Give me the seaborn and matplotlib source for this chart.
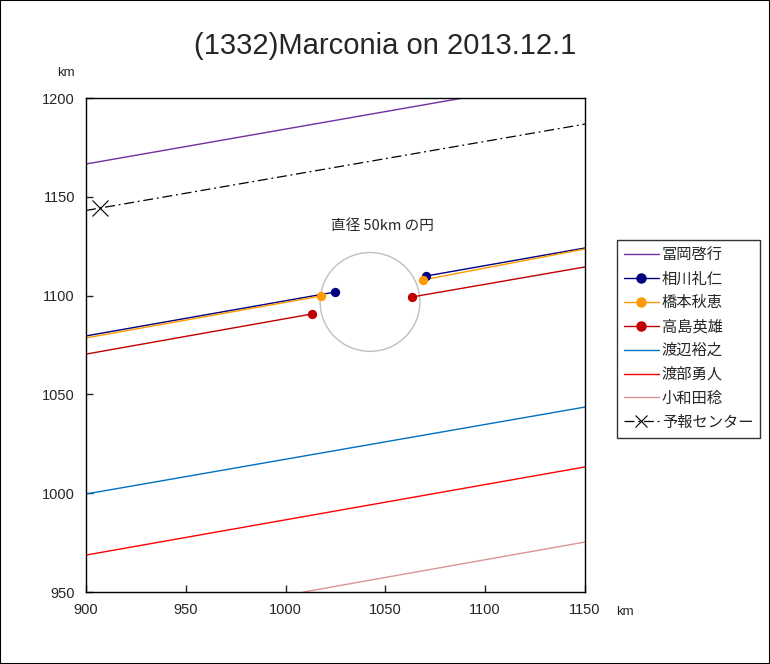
import numpy as np
import pandas as pd
import matplotlib
matplotlib.use("Agg")
import matplotlib.pyplot as plt
from matplotlib.lines import Line2D
from matplotlib.patches import Circle
import seaborn as sns

sns.set_style("white")
plt.rcParams['font.family'] = ['Liberation Sans', 'Noto Sans CJK JP', 'DejaVu Sans']
JP = ['Noto Sans CJK JP', 'DejaVu Sans']

# ---- data (km) ----
names = ["冨岡啓行", "相川礼仁", "橋本秋恵", "高島英雄", "渡辺裕之", "渡部勇人", "小和田稔"]
colors = ["#7030A0", "#000080", "#FF9900", "#C00000", "#0070C0", "#FF0000", "#D99694"]

# chord lines without observed events (x pairs, y pairs)
tomioka_x = [900, 1088.9]
tomioka_y = [1166.6, 1200.0]
watanabe_x = [900, 1150]
watanabe_y = [999.6, 1043.6]
watabe_x = [900, 1150]
watabe_y = [968.7, 1013.3]
owada_x = [1008.9, 1150]
owada_y = [950.0, 975.3]

# positive chords: before disappearance / after reappearance
aikawa_x1 = [900, 1024.7]
aikawa_y1 = [1079.6, 1101.8]
aikawa_x2 = [1070.3, 1150]
aikawa_y2 = [1109.9, 1124.1]
hashimoto_x1 = [900, 1017.7]
hashimoto_y1 = [1078.6, 1099.8]
hashimoto_x2 = [1068.6, 1150]
hashimoto_y2 = [1107.9, 1123.6]
takashima_x1 = [900, 1013.2]
takashima_y1 = [1070.4, 1090.7]
takashima_x2 = [1063.3, 1150]
takashima_y2 = [1099.3, 1114.5]

# predicted center line
center_x = [900, 907, 1150]
center_y = [1143.1, 1144.3, 1186.8]
center_mark = (907, 1144.3)

circle_center = (1042.3, 1096.8)
circle_diameter = 50

fig = plt.figure(figsize=(7.7, 6.64), dpi=100)
ax = fig.add_axes([0.1117, 0.1084, 0.6480, 0.7440])

def seg(x, y, color, lw=1.0):
    df = pd.DataFrame({"x": x, "y": y})
    sns.lineplot(data=df, x="x", y="y", ax=ax, color=color, lw=lw,
                 sort=False, estimator=None)

seg(tomioka_x, tomioka_y, colors[0])
seg(watanabe_x, watanabe_y, colors[4])
seg(watabe_x, watabe_y, colors[5])
seg(owada_x, owada_y, colors[6])

for (x1, y1, x2, y2, c) in [
    (aikawa_x1, aikawa_y1, aikawa_x2, aikawa_y2, colors[1]),
    (hashimoto_x1, hashimoto_y1, hashimoto_x2, hashimoto_y2, colors[2]),
    (takashima_x1, takashima_y1, takashima_x2, takashima_y2, colors[3]),
]:
    seg(x1, y1, c)
    seg(x2, y2, c)
    pts = pd.DataFrame({"x": [x1[-1], x2[0]], "y": [y1[-1], y2[0]]})
    sns.scatterplot(data=pts, x="x", y="y", ax=ax, color=c, s=45,
                    edgecolor=c, linewidth=0, zorder=5)

cdf = pd.DataFrame({"x": center_x, "y": center_y})
sns.lineplot(data=cdf, x="x", y="y", ax=ax, color="black", lw=0.9,
             sort=False, estimator=None, linestyle=(0, (8, 3, 1.5, 3)))
ax.plot([center_mark[0]], [center_mark[1]], marker="x", color="black",
        markersize=11, mew=0.8, linestyle="none")

ax.add_patch(Circle(circle_center, circle_diameter / 2, fill=False,
                    edgecolor="#BFBFBF", lw=1.0))
ax.text(1048.3, 1135.2, "直径 50km の円", fontsize=10.5, ha="center",
        va="center", family=JP)

ax.set_xlim(900, 1150)
ax.set_ylim(950, 1200)
ax.set_xticks([900, 950, 1000, 1050, 1100, 1150])
ax.set_yticks([950, 1000, 1050, 1100, 1150, 1200])
ax.set_xlabel("")
ax.set_ylabel("")
ax.tick_params(direction="in", length=5, width=1, labelsize=10.5, pad=8,
               left=True, bottom=True)
for s in ax.spines.values():
    s.set_color("black")
    s.set_linewidth(1.0)

fig.text(0.5, 0.930, "(1332)Marconia on 2013.12.1", fontsize=21,
         ha="center", va="center")
fig.text(0.085, 0.890, "km", fontsize=9.5, ha="center", va="center")
fig.text(0.812, 0.078, "km", fontsize=9.5, ha="center", va="center")

handles = [
    Line2D([], [], color=colors[0], lw=1),
    Line2D([], [], color=colors[1], lw=1, marker="o", markersize=6.5),
    Line2D([], [], color=colors[2], lw=1, marker="o", markersize=6.5),
    Line2D([], [], color=colors[3], lw=1, marker="o", markersize=6.5),
    Line2D([], [], color=colors[4], lw=1),
    Line2D([], [], color=colors[5], lw=1),
    Line2D([], [], color=colors[6], lw=1),
    Line2D([], [], color="black", lw=0.9, linestyle=(0, (8, 3, 1.5, 3)),
           marker="x", markersize=8, mew=0.8),
]
labels = names + ["予報センター"]
leg = fig.legend(handles, labels, loc="upper left", bbox_to_anchor=(0.801, 0.639),
                 prop={"family": JP, "size": 11}, frameon=True, fancybox=False,
                 edgecolor="black", handlelength=2.3, labelspacing=0.45,
                 borderpad=0.45, handletextpad=0.2, borderaxespad=0)
leg.get_frame().set_linewidth(1.0)

fig.patches.append(plt.Rectangle((0, 0), 1, 1, transform=fig.transFigure,
                                 fill=False, edgecolor="black", lw=1.5))

fig.savefig("out.png", dpi=100)
